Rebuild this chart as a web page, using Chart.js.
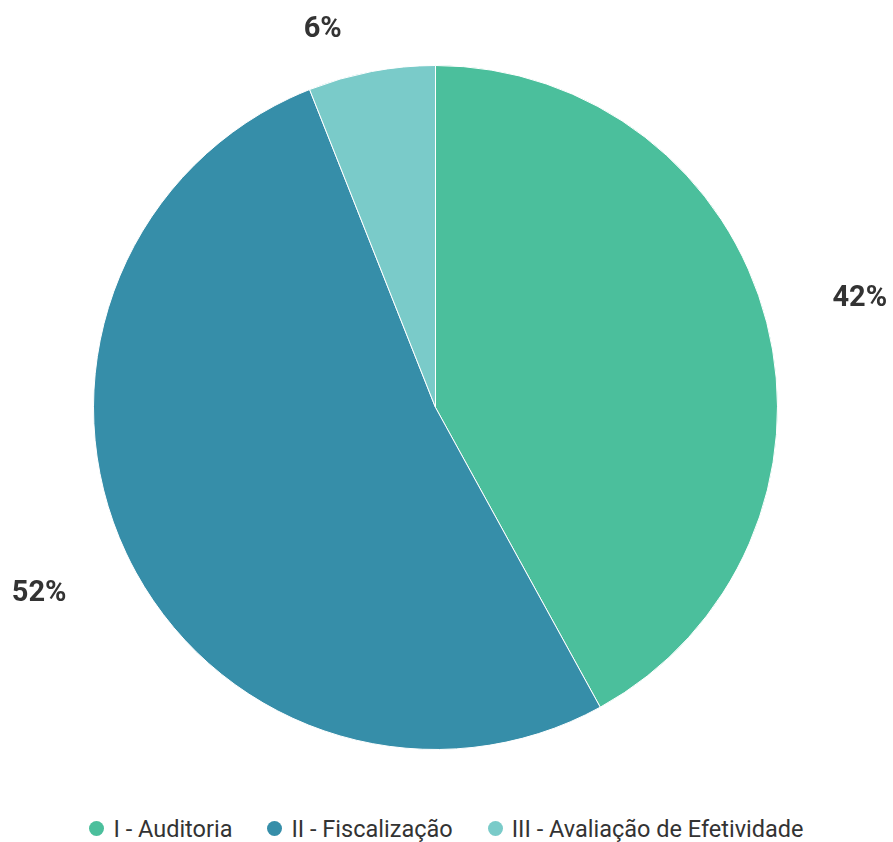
<!DOCTYPE html>
<html lang="pt">
<head>
<meta charset="utf-8">
<title>Distribuição por tipo</title>
<script src="https://cdn.jsdelivr.net/npm/chart.js@4/dist/chart.umd.min.js"></script>
<style>
    body {
        margin: 0;
        background: #fff;
        font-family: Roboto, "Noto Sans", sans-serif;
    }
    .wrap {
        width: 893px;
        height: 842px;
        position: relative;
    }
    .chart-box {
        width: 893px;
        height: 815px;
    }
    #legend {
        display: flex;
        justify-content: center;
        align-items: center;
        height: 27px;
        gap: 35px;
        font-size: 23.5px;
        color: #333;
        padding-left: 0;
    }
    #legend .item {
        display: flex;
        align-items: center;
    }
    #legend .dot {
        width: 15px;
        height: 15px;
        border-radius: 50%;
        margin-right: 9px;
    }
</style>
</head>
<body>
<div class="wrap">
    <div class="chart-box"><canvas id="pieChart"></canvas></div>
    <div id="legend"></div>
</div>
<script>
// Categories and shares (%)
const categories = ['I - Auditoria', 'II - Fiscalização', 'III - Avaliação de Efetividade'];
const shares = [42, 52, 6];
const sliceColors = ['#4bbf9c', '#368ea9', '#7acbc9'];

// Percent labels outside each slice
const outsideLabels = {
    id: 'outsideLabels',
    afterDatasetsDraw(chart) {
        const ctx = chart.ctx;
        const meta = chart.getDatasetMeta(0);
        ctx.save();
        ctx.font = 'bold 29px Roboto';
        ctx.fillStyle = '#333';
        ctx.textAlign = 'center';
        ctx.textBaseline = 'middle';
        meta.data.forEach((arc, i) => {
            const p = arc.getProps(['x', 'y', 'startAngle', 'endAngle', 'outerRadius'], true);
            const mid = (p.startAngle + p.endAngle) / 2;
            const d = p.outerRadius + 96;
            let lx = p.x + Math.cos(mid) * d;
            let ly = p.y + Math.sin(mid) * d;
            // keep labels inside the canvas near the top
            const minY = 30;
            if (ly < minY) {
                ly = minY;
                const rr = p.outerRadius + 52;
                const dy = p.y - minY;
                lx = p.x + Math.sign(Math.cos(mid)) * Math.sqrt(Math.max(rr * rr - dy * dy, 0));
            }
            ctx.fillText(shares[i] + '%', lx, ly);
        });
        ctx.restore();
    }
};

const chart = new Chart(document.getElementById('pieChart'), {
    type: 'pie',
    data: {
        labels: categories,
        datasets: [{
            data: shares,
            backgroundColor: sliceColors,
            borderColor: '#fff',
            borderWidth: 1,
            hoverOffset: 0
        }]
    },
    options: {
        responsive: true,
        maintainAspectRatio: false,
        animation: false,
        layout: {
            padding: { top: 0, bottom: 0, left: 93, right: 115 }
        },
        plugins: {
            legend: { display: false },
            tooltip: { enabled: false }
        }
    },
    plugins: [outsideLabels]
});

// Legend below the chart
const legendEl = document.getElementById('legend');
categories.forEach((name, i) => {
    const item = document.createElement('div');
    item.className = 'item';
    const dot = document.createElement('span');
    dot.className = 'dot';
    dot.style.background = sliceColors[i];
    const text = document.createElement('span');
    text.textContent = name;
    item.appendChild(dot);
    item.appendChild(text);
    legendEl.appendChild(item);
});
</script>
</body>
</html>
